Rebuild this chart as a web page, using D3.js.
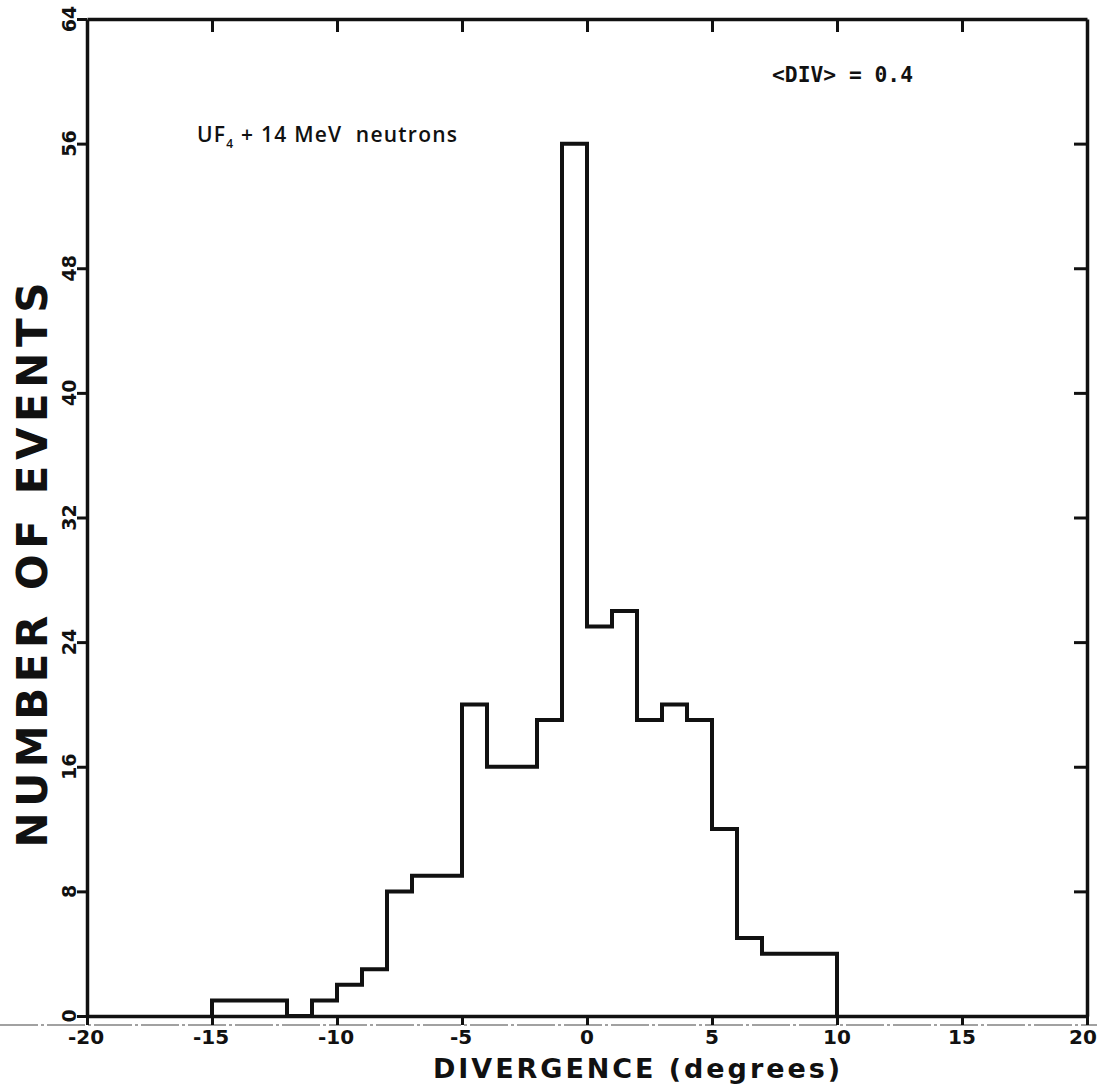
<!DOCTYPE html>
<meta charset="utf-8">
<style>
  body { margin: 0; background: #fff; }
  svg { display: block; }
</style>
<svg></svg>
<script src="https://cdn.jsdelivr.net/npm/d3@7"></script>
<script>

// histogram data: lower bin edge (degrees) and number of events, 1 degree bins
var binStarts = [-15, -14, -13, -12, -11, -10, -9, -8, -7, -6, -5, -4, -3, -2, -1, 0, 1, 2, 3, 4, 5, 6, 7, 8, 9]
var counts    = [  1,   1,   1,   0,   1,   2,  3,  8,  9,  9, 20, 16, 16, 19, 56, 25, 26, 19, 20, 19, 12, 5, 4, 4, 4]
var binWidth = 1

var xTicks = [-20, -15, -10, -5, 0, 5, 10, 15, 20]
var yTicks = [0, 8, 16, 24, 32, 40, 48, 56, 64]

var xTitle = "DIVERGENCE (degrees)"
var yTitle = "NUMBER OF EVENTS"
var meanLabel = "<DIV> = 0.4"

var width = 1097
var height = 1091
var margin = { top: 19, right: 10, bottom: 75, left: 87 }

var svg = d3.select("svg")
    .attr("width", width)
    .attr("height", height)

var x = d3.scaleLinear().domain([-20, 20]).range([margin.left, width - margin.right])
var y = d3.scaleLinear().domain([0, 64]).range([height - margin.bottom, margin.top])

var ink = "#111"

// scanner streak under the axis
svg.append("line")
    .attr("x1", 0).attr("x2", width)
    .attr("y1", y(0) + 9).attr("y2", y(0) + 9)
    .attr("stroke", "#444")
    .attr("stroke-width", 1.2)
    .attr("stroke-dasharray", "38,3,3,3")

// axes: outward ticks bottom/left, inward ticks top/right
var bottomAxis = svg.append("g")
    .attr("transform", "translate(0," + y(0) + ")")
    .call(d3.axisBottom(x).tickValues(xTicks).tickSize(9).tickSizeOuter(0).tickFormat(""))

var topAxis = svg.append("g")
    .attr("transform", "translate(0," + y(64) + ")")
    .call(d3.axisBottom(x).tickValues(xTicks.slice(1, -1)).tickSize(13).tickSizeOuter(0).tickFormat(""))

var leftAxis = svg.append("g")
    .attr("transform", "translate(" + x(-20) + ",0)")
    .call(d3.axisLeft(y).tickValues(yTicks).tickSize(10).tickSizeOuter(0).tickFormat(""))

var rightAxis = svg.append("g")
    .attr("transform", "translate(" + x(20) + ",0)")
    .call(d3.axisLeft(y).tickValues(yTicks.slice(1, -1)).tickSize(13).tickSizeOuter(0).tickFormat(""))

svg.selectAll(".domain").attr("stroke", ink).attr("stroke-width", 3.5)
svg.selectAll(".tick line").attr("stroke", ink).attr("stroke-width", 3)

// tick labels
svg.append("g").selectAll("text")
  .data(xTicks)
  .enter().append("text")
    .attr("x", function (d) { return d === 20 ? x(d) - 4 : x(d) + (d < 0 ? -1 : 0) })
    .attr("y", y(0) + 28)
    .attr("text-anchor", "middle")
    .attr("font-family", "DejaVu Sans, sans-serif")
    .attr("font-weight", "bold")
    .attr("font-size", 20)
    .attr("fill", ink)
    .text(function (d) { return d })

svg.append("g").selectAll("text")
  .data(yTicks)
  .enter().append("text")
    .attr("transform", function (d) { return "translate(" + (x(-20) - 11) + "," + y(d) + ") rotate(-90)" })
    .attr("text-anchor", "middle")
    .attr("font-family", "DejaVu Sans, sans-serif")
    .attr("font-weight", "bold")
    .attr("font-size", 19)
    .attr("fill", ink)
    .text(function (d) { return d })

// axis titles
svg.append("text")
    .attr("x", 433)
    .attr("y", 1078)
    .attr("textLength", 407)
    .attr("lengthAdjust", "spacing")
    .attr("font-family", "DejaVu Sans, sans-serif")
    .attr("font-weight", "bold")
    .attr("font-size", 27)
    .attr("fill", ink)
    .text(xTitle)

svg.append("text")
    .attr("transform", "translate(47,565) rotate(-90)")
    .attr("text-anchor", "middle")
    .attr("textLength", 565)
    .attr("lengthAdjust", "spacing")
    .attr("font-family", "DejaVu Sans, sans-serif")
    .attr("font-weight", "bold")
    .attr("font-size", 42)
    .attr("fill", ink)
    .text(yTitle)

// histogram outline
var pts = [{ x: binStarts[0], y: 0 }]
binStarts.forEach(function (b, i) { pts.push({ x: b, y: counts[i] }) })
pts.push({ x: binStarts[binStarts.length - 1] + binWidth, y: 0 })

var line = d3.line()
    .x(function (d) { return x(d.x) })
    .y(function (d) { return y(d.y) })
    .curve(d3.curveStepAfter)

svg.append("path")
    .datum(pts)
    .attr("d", line)
    .attr("fill", "none")
    .attr("stroke", ink)
    .attr("stroke-width", 4)
    .attr("stroke-linejoin", "miter")

// annotations
var label = svg.append("text")
    .attr("x", 197)
    .attr("y", 142)
    .attr("textLength", 260)
    .attr("lengthAdjust", "spacing")
    .attr("font-family", "Open Sans, sans-serif")
    .attr("font-weight", 600)
    .attr("font-size", 21)
    .attr("fill", ink)
label.append("tspan").text("UF")
label.append("tspan").attr("font-size", 12).attr("dy", 6).text("4")
label.append("tspan").attr("dy", -6).text("\u00a0+ 14 MeV\u00a0\u00a0neutrons")

svg.append("text")
    .attr("x", 772)
    .attr("y", 82)
    .attr("textLength", 141)
    .attr("lengthAdjust", "spacingAndGlyphs")
    .attr("font-family", "DejaVu Sans Mono, monospace")
    .attr("font-weight", "bold")
    .attr("font-size", 21)
    .attr("fill", ink)
    .text(meanLabel)

</script>
